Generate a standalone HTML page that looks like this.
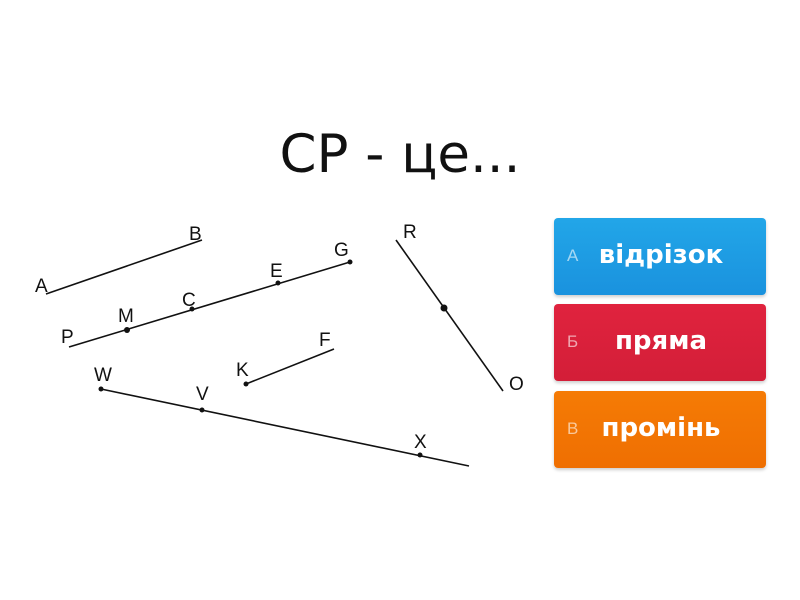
<!DOCTYPE html>
<html><head><meta charset="utf-8"><style>
body{margin:0;width:800px;height:600px;background:#fff;position:relative;overflow:hidden;font-family:"Liberation Sans","DejaVu Sans",sans-serif}
.t{position:absolute;left:0;width:800px;top:124px;text-align:center;font-size:53px;color:#111;font-family:"DejaVu Sans","Liberation Sans",sans-serif}
.b{position:absolute;left:554px;width:212px;height:77px;border-radius:4px;color:#fff;box-shadow:0 2px 3px rgba(0,0,0,.2)}
.b .l{position:absolute;left:13px;top:28px;font-size:17px;opacity:.6}
.b .w{position:absolute;left:0;width:100%;top:22px;text-align:center;font-size:26px;font-weight:bold;font-family:"DejaVu Sans",sans-serif;padding-left:2px;box-sizing:border-box}
svg text{font-family:"Liberation Sans",sans-serif;font-size:19px;fill:#111}
</style></head><body>
<div class="t">CP - це...</div>
<svg width="800" height="600" style="position:absolute;left:0;top:0">
<g stroke="#111" stroke-width="1.6" fill="none">
<line x1="46" y1="294" x2="202" y2="240"/>
<line x1="69" y1="347" x2="350" y2="262"/>
<line x1="396" y1="240" x2="503" y2="391"/>
<line x1="246" y1="384" x2="334" y2="349"/>
<line x1="101" y1="389" x2="469" y2="466"/>
</g>
<g fill="#111">
<circle cx="350" cy="262" r="2.5"/><circle cx="278" cy="283" r="2.5"/><circle cx="192" cy="309" r="2.5"/><circle cx="127" cy="330" r="3"/>
<circle cx="444" cy="308" r="3.5"/><circle cx="246" cy="384" r="2.5"/><circle cx="101" cy="389" r="2.5"/><circle cx="202" cy="410" r="2.5"/><circle cx="420" cy="455" r="2.5"/>
</g>
<text x="35" y="292">A</text><text x="189" y="240">B</text><text x="334" y="256">G</text><text x="270" y="277">E</text>
<text x="182" y="306">C</text><text x="118" y="322">M</text><text x="61" y="343">P</text><text x="403" y="238">R</text>
<text x="509" y="390">O</text><text x="319" y="346">F</text><text x="236" y="376">K</text><text x="94" y="381">W</text>
<text x="196" y="400">V</text><text x="414" y="448">X</text>
</svg>
<div class="b" style="top:218px;background:linear-gradient(#22a6e8,#1a92de)"><span class="l">A</span><div class="w">відрізок</div></div>
<div class="b" style="top:304px;background:linear-gradient(#e0233e,#d31e38)"><span class="l">Б</span><div class="w">пряма</div></div>
<div class="b" style="top:391px;background:linear-gradient(#f57b05,#ef6f02)"><span class="l">В</span><div class="w">промінь</div></div>
</body></html>
